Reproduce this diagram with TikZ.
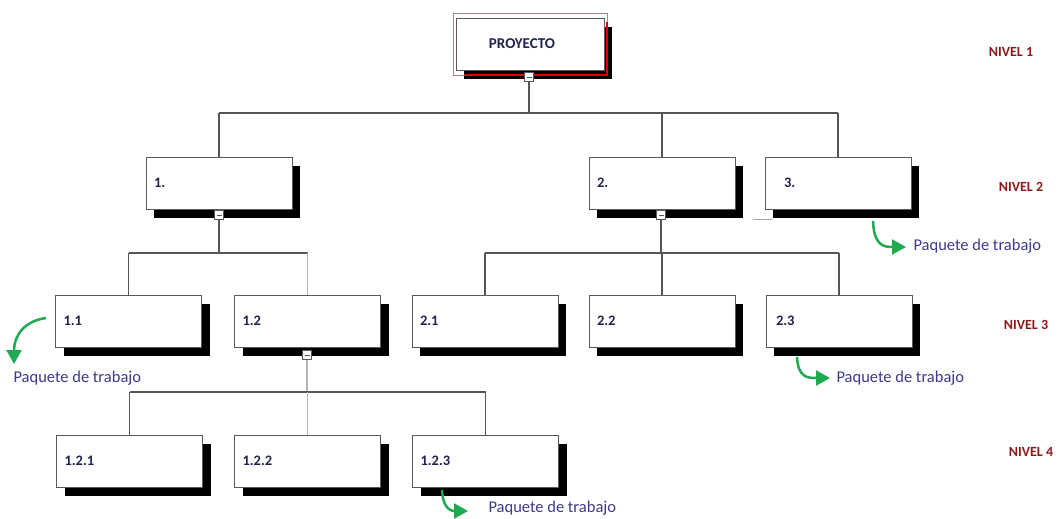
\documentclass[tikz,border=0pt]{standalone}
\usepackage{fontspec}
\setmainfont{Carlito}
\usetikzlibrary{shadows,arrows.meta}
\definecolor{lblc}{HTML}{1F2350}
\definecolor{nivelc}{HTML}{8B1A1A}
\definecolor{paqc}{HTML}{3A3A8C}
\definecolor{grnc}{HTML}{1DAA50}
\definecolor{connc}{HTML}{555555}
\definecolor{connl}{HTML}{B4B4B4}
\definecolor{framec}{HTML}{A08888}
\begin{document}
\begin{tikzpicture}[x=1pt,y=-1pt,
  wbs/.style={draw=gray!70!black, line width=0.9pt, fill=white,
    minimum width=146pt, minimum height=52pt, inner xsep=8pt, inner ysep=0pt,
    text width=130pt, align=left, font=\bfseries\fontsize{14.5}{16}\selectfont, text=lblc,
    drop shadow={shadow xshift=8pt, shadow yshift=-9pt, fill=black, opacity=1}},
  sq/.style={draw=gray!70!black, fill=white, minimum width=9pt, minimum height=9pt,
    inner sep=0pt, line width=0.7pt},
  conn/.style={draw=connc, line width=1.3pt},
  connlight/.style={draw=connl, line width=1.3pt},
  nivel/.style={text=nivelc, font=\bfseries\fontsize{14}{16}\selectfont},
  paq/.style={text=paqc, font=\fontsize{16.5}{18}\selectfont},
  garrow/.style={draw=grnc, line width=2.5pt, -{Triangle[width=15pt,length=14pt]}}
]
\useasboundingbox (0,0) rectangle (1063,519);

% level 1
\node[wbs, minimum width=148pt, text width=132pt, align=center,
      font=\bfseries\fontsize{15}{16}\selectfont] (P) at (530,44) {\hspace*{-16pt}PROYECTO};
\draw[draw=framec, line width=0.8pt] (453,13) rectangle (607,75);
\draw[draw=red!85!black, line width=1.4pt] (465,75) -- (607,75) -- (607,22);

% level 2
\node[wbs] (b1) at (219,183) {1.};
\node[wbs] (b2) at (662,183) {2.};
\node[wbs] (b3) at (838,183) {\hspace*{11pt}3.};
\draw[draw=gray!70, line width=1pt] (753,219) -- (772,219);

% level 3
\node[wbs] (b11) at (128.5,321) {1.1};
\node[wbs] (b12) at (307.5,321) {1.2};
\node[wbs] (b21) at (485,321) {2.1};
\node[wbs] (b22) at (662,321) {2.2};
\node[wbs] (b23) at (839,321) {\hspace*{2pt}2.3};

% level 4
\node[wbs] (b121) at (129.5,461) {1.2.1};
\node[wbs] (b122) at (307.5,461) {1.2.2};
\node[wbs] (b123) at (485.5,461) {1.2.3};

% collapse squares
\node[sq] (sqP) at (529,77) {};
\node[sq] (sq1) at (219,215) {};
\node[sq] (sq2) at (661,215) {};
\node[sq] (sq12) at (307,355) {};
\foreach \s in {sqP,sq1,sq2,sq12}
  \draw[gray!70!black, line width=0.7pt] ([xshift=-2.5pt]\s.center) -- ([xshift=2.5pt]\s.center);

% buses
\coordinate (bus1) at (0,113);
\coordinate (bus2) at (0,253);
\coordinate (bus3) at (0,392);

\draw[conn] (sqP.south) -- (sqP.south |- bus1);
\draw[conn] (b1.north |- bus1) -- (b3.north |- bus1);
\foreach \n in {b1,b2,b3} \draw[conn] (\n.north) -- (\n.north |- bus1);

\draw[conn] (sq1.south) -- (sq1.south |- bus2);
\draw[conn] (b11.north |- bus2) -- (b12.north |- bus2);
\draw[conn] (b11.north) -- (b11.north |- bus2);
\draw[connlight] (b12.north) -- (b12.north |- bus2);

\draw[conn] (sq2.south) -- (sq2.south |- bus2);
\draw[conn] (b21.north |- bus2) -- (b23.north |- bus2);
\foreach \n in {b21,b22,b23} \draw[conn] (\n.north) -- (\n.north |- bus2);

\draw[connlight] (sq12.south) -- (sq12.south |- bus3);
\draw[conn] (b121.north |- bus3) -- (b123.north |- bus3);
\draw[conn] (b121.north) -- (b121.north |- bus3);
\draw[connlight] (b122.north) -- (b122.north |- bus3);
\draw[conn] (b123.north) -- (b123.north |- bus3);

% level labels
\node[nivel] (n1) at (1011,52) {NIVEL 1};
\node[nivel] (n2) at (1021,187) {NIVEL 2};
\node[nivel] (n3) at (1026,325) {NIVEL 3};
\node[nivel] (n4) at (1031,452) {NIVEL 4};

% work packages
\node[paq, anchor=west] (p3) at (910,246) {Paquete de trabajo};
\node[paq, anchor=west] (p11) at (10,378) {Paquete de trabajo};
\node[paq, anchor=west] (p23) at (833,378) {Paquete de trabajo};
\node[paq, anchor=west] (p123) at (485,508) {Paquete de trabajo};

\coordinate (s3) at (873,221);   \coordinate (t3) at (906,247);
\coordinate (s11) at (46,318);   \coordinate (t11) at (14,364);
\coordinate (s23) at (797,357);  \coordinate (t23) at (830,378);
\coordinate (s123) at (442,490); \coordinate (t123) at (468,511);

\draw[garrow] (s3) .. controls (874,246) and (884,247) .. (t3);
\draw[garrow] (s11) .. controls (24,321) and (14,336) .. (t11);
\draw[garrow] (s23) .. controls (798,378) and (808,378) .. (t23);
\draw[garrow] (s123) .. controls (443,510) and (452,511) .. (t123);
\end{tikzpicture}
\end{document}
